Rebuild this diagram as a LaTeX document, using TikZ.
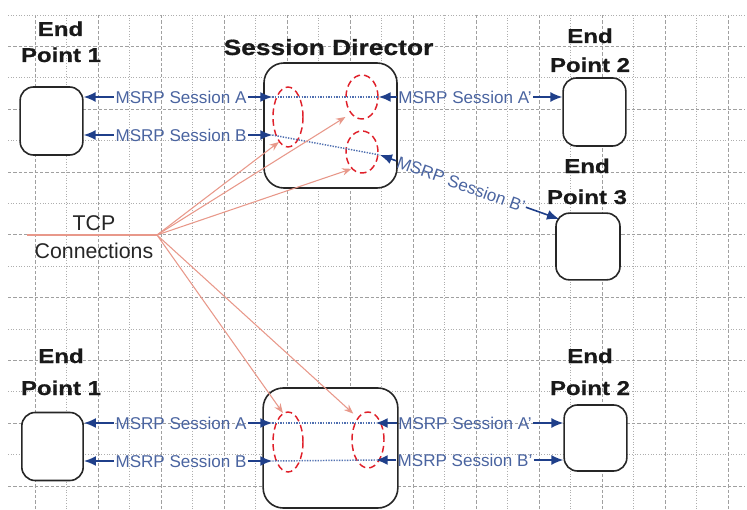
\documentclass[tikz,border=0pt]{standalone}
\usepackage{fontspec}
\setmainfont{Liberation Sans}
\newfontfamily\headfont[FakeStretch=1.2,FakeBold=0.6]{Liberation Sans Bold}
\usetikzlibrary{arrows.meta,shapes.geometric,calc}
\definecolor{arrowblue}{HTML}{1F3F8A}
\definecolor{labelblue}{HTML}{4A64A0}
\definecolor{dotblue}{HTML}{4F6FB0}
\definecolor{salmon}{HTML}{E8988A}
\definecolor{ellred}{HTML}{E0202A}
\definecolor{gridgray}{HTML}{A0A0A0}
\tikzset{
  gridA/.style={gridgray, line width=0.55pt, dash pattern=on 2.5pt off 1.5pt},
  gridB/.style={gridgray!85, line width=0.55pt, dash pattern=on 0.8pt off 1.2pt},
  epbox/.style={draw=black!85, line width=1.2pt, rounded corners=10pt, fill=white,
    minimum width=47pt, minimum height=51pt, inner sep=0pt},
  sdbox/.style={draw=black!85, line width=1.2pt, rounded corners=15pt, fill=white, inner sep=0pt},
  head/.style={font=\headfont\fontsize{15pt}{18pt}\selectfont, text=black!90, anchor=base, inner sep=0pt},
  sdhead/.style={font=\headfont\fontsize{16.5pt}{20pt}\selectfont, text=black!90, anchor=base, inner sep=0pt},
  tcptext/.style={font=\fontsize{16pt}{19pt}\selectfont, text=black!85, anchor=base, inner sep=0pt},
  lab/.style={font=\fontsize{12.8pt}{15pt}\selectfont, text=labelblue, inner sep=1pt},
  blu/.style={draw=arrowblue, line width=1.2pt, -{Latex[length=9pt,width=7.5pt]}},
  dotl/.style={draw=dotblue, line width=1.1pt, dash pattern=on 1pt off 1pt},
  ell/.style={ellipse, draw=ellred, line width=1.1pt, dash pattern=on 5pt off 3pt, inner sep=0pt},
  tcp/.style={draw=salmon, line width=0.8pt},
  tcparr/.style={tcp, -{Stealth[length=7pt,width=5.5pt]}},
}
\begin{document}
\begin{tikzpicture}[x=0.75pt,y=-0.75pt]
\useasboundingbox (0,0) rectangle (747,510);
% grid
\foreach \k in {1,...,23}{
  \ifodd\k
    \draw[gridA] (3.5+31.5*\k,15) -- (3.5+31.5*\k,510);
  \else
    \draw[gridB] (3.5+31.5*\k,15) -- (3.5+31.5*\k,510);
  \fi
}
\foreach \k in {0,...,15}{
  \ifodd\k
    \draw[gridA] (8,15+31.4*\k) -- (745,15+31.4*\k);
  \else
    \draw[gridB] (8,15+31.4*\k) -- (745,15+31.4*\k);
  \fi
}
% boxes
\node[epbox] (ep1t) at (51.5,121) {};
\node[sdbox, minimum width=99.75pt, minimum height=93.75pt] (sdt) at (330.5,125.5) {};
\node[epbox] (ep2t) at (594.5,112) {};
\node[epbox, minimum width=48pt, minimum height=50pt] (ep3) at (588,246.5) {};
\node[epbox, minimum width=46pt] (ep1b) at (52.5,446.5) {};
\node[sdbox, minimum width=101pt, minimum height=90pt] (sdb) at (330.5,448) {};
\node[epbox, minimum height=49.5pt] (ep2b) at (595.5,438) {};
% headings
\node[head] (h1a) at (60.5,36) {End};
\node[head] (h1b) at (61,62) {Point 1};
\node[sdhead] (hsd) at (328.5,55) {Session Director};
\node[head] (h2a) at (590,43) {End};
\node[head] (h2b) at (590,72) {Point 2};
\node[head] (h3a) at (587,173) {End};
\node[head] (h3b) at (587,204) {Point 3};
\node[head] (h4a) at (61,363) {End};
\node[head] (h4b) at (61,395) {Point 1};
\node[head] (h5a) at (590,363) {End};
\node[head] (h5b) at (590,395) {Point 2};
\node[tcptext] (tcp1) at (94,230) {TCP};
\node[tcptext] (tcp2) at (94,258) {Connections};
% red ellipses
\node[ell, minimum width=22.5pt, minimum height=45pt] (e1t) at (288,117) {};
\node[ell, minimum width=24pt, minimum height=33pt] (e2t) at (362,97) {};
\node[ell, minimum width=24pt, minimum height=31.5pt] (e3t) at (362,152) {};
\node[ell, minimum width=22.5pt, minimum height=45pt] (e1b) at (288,442) {};
\node[ell, minimum width=24pt, minimum height=42pt] (e2b) at (368,440) {};
% labels
\node[lab] (lA) at (181,97) {MSRP Session A};
\node[lab] (lB) at (181,135) {MSRP Session B};
\node[lab] (lAp) at (465,97) {MSRP Session A'};
\node[lab, rotate=-19.7] (lBp) at (461,184) {MSRP Session B'};
\node[lab] (lAb) at (181,423) {MSRP Session A};
\node[lab] (lBb) at (181,461) {MSRP Session B};
\node[lab] (lAbp) at (465,423) {MSRP Session A'};
\node[lab] (lBbp) at (465,460) {MSRP Session B'};
% top blue connectors
\draw[blu] (lA.west) -- (lA.west -| ep1t.east);
\draw[blu] (lA.east) -- (lA.east -| e1t.west);
\draw[dotl] (lA.east -| e1t.west) -- (lAp.west -| e2t.east);
\draw[blu] (lAp.west) -- (lAp.west -| e2t.east);
\draw[blu] (lAp.east) -- (lAp.east -| ep2t.west);
\draw[blu] (lB.west) -- (lB.west -| ep1t.east);
\draw[blu] (lB.east) -- (lB.east -| e1t.west);
\coordinate (bp1) at (380,155);
\coordinate (bp2) at (559,219);
\draw[dotl] (lB.east -| e1t.west) -- (bp1);
\draw[blu] (lBp.west) -- (bp1);
\draw[blu] (lBp.east) -- (bp2);
% bottom blue connectors
\draw[blu] (lAb.west) -- (lAb.west -| ep1b.east);
\draw[blu] (lAb.east) -- (lAb.east -| e1b.west);
\draw[dotl] (lAb.east -| e1b.west) -- ($(lAbp.west -| e2b.east)+(-9,0)$);
\draw[blu] (lAbp.west) -- ($(lAbp.west -| e2b.east)+(-9,0)$);
\draw[blu] (lAbp.east) -- (lAbp.east -| ep2b.west);
\draw[blu] (lBb.west) -- (lBb.west -| ep1b.east);
\draw[blu] (lBb.east) -- (lBb.east -| e1b.west);
\draw[dotl] (lBb.east -| e1b.west) -- ($(lBbp.west -| e2b.east)+(-9,0)$);
\draw[blu] (lBbp.west) -- ($(lBbp.west -| e2b.east)+(-9,0)$);
\draw[blu] (lBbp.east) -- (lBbp.east -| ep2b.west);
% TCP connections
\coordinate (tcpL) at (27,235);
\coordinate (hub) at (157,235);
\draw[tcp] (tcpL) -- (hub);
\draw[tcparr] (hub) -- (e1t.250);
\draw[tcparr] (hub) -- ($(e2t.230)+(-4,5)$);
\draw[tcparr] (hub) -- (e3t.238);
\draw[tcparr] (hub) -- (e1b.100);
\draw[tcparr] (hub) -- ($(e2b.120)+(-3,-6)$);
\end{tikzpicture}
\end{document}
